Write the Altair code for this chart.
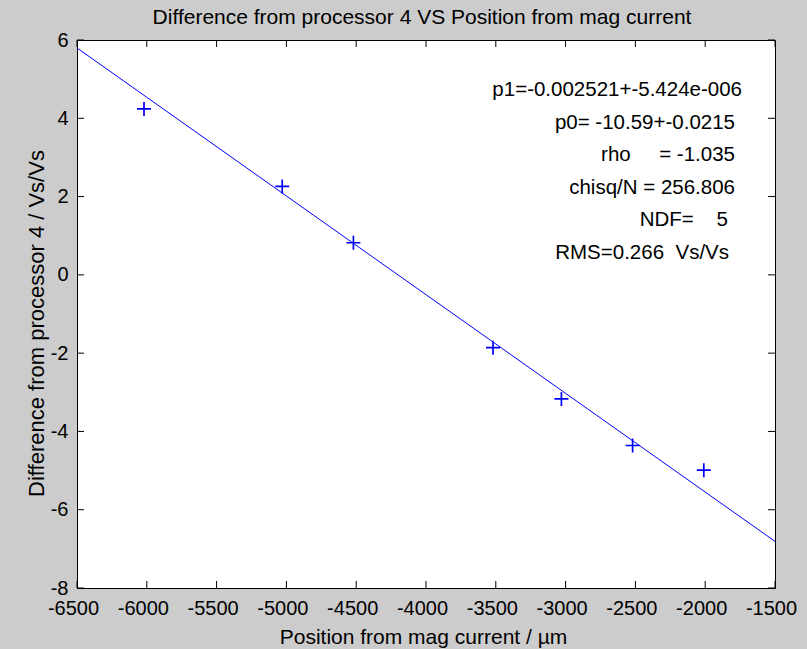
import altair as alt
import pandas as pd

# ---- data ----
X_POS = [-6020, -5030, -4520, -3520, -3030, -2520, -2010]
Y_DIFF = [4.24, 2.26, 0.82, -1.86, -3.17, -4.36, -4.99]
P1 = -0.002521
P0 = -10.59
X_DOMAIN = [-6500, -1500]
Y_DOMAIN = [-8, 6]
X_TICKS = [-6500, -6000, -5500, -5000, -4500, -4000, -3500, -3000, -2500, -2000, -1500]
Y_TICKS = [-8, -6, -4, -2, 0, 2, 4, 6]
TITLE = "Difference from processor 4 VS Position from mag current"
X_TITLE = "Position from mag current / µm"
Y_TITLE = "Difference from processor 4 / Vs/Vs"
NB = "\u00a0"
ANNOT = [
    "p1=-0.002521+-5.424e-006",
    "p0= -10.59+-0.0215",
    "rho" + NB * 5 + "= -1.035",
    "chisq/N = 256.806",
    "NDF=" + NB * 4 + "5",
    "RMS=0.266" + NB * 2 + "Vs/Vs",
]

# ---- layout / style ----
FONT = "Liberation Sans"
FS = 20
BLUE = "#0000ff"
W, H = 698, 548
TICK_LEN = 7
ANNOT_RIGHT = [665, 658, 658, 658, 651, 652]   # right edge of each annotation line (px)
ANNOT_TOP = 56
ANNOT_STEP = 32.6

pts = pd.DataFrame({"x": X_POS, "y": Y_DIFF})
fit = pd.DataFrame({"x": X_DOMAIN, "y": [P1 * v + P0 for v in X_DOMAIN]})
xt = pd.DataFrame({"x": X_TICKS})
yt = pd.DataFrame({"y": Y_TICKS})

xscale = alt.Scale(domain=X_DOMAIN, nice=False, zero=False)
yscale = alt.Scale(domain=Y_DOMAIN, nice=False, zero=False)

x_axis = alt.Axis(values=X_TICKS, title=X_TITLE, labelOffset=-4, labelPadding=10,
                  labelExpr="'' + datum.value", labelOverlap=False, labelFlush=False,
                  titleFontSize=21, titleX=346, titleY=55, titleBaseline="alphabetic")
y_axis = alt.Axis(values=Y_TICKS, title=Y_TITLE, labelPadding=9,
                  labelExpr="'' + datum.value", labelOverlap=False, labelFlush=False,
                  titleFontSize=22, titleX=-34, titleY=283, titleBaseline="alphabetic")

X = alt.X("x:Q", scale=xscale, axis=x_axis)
Y = alt.Y("y:Q", scale=yscale, axis=y_axis)

points = alt.Chart(pts).mark_point(
    shape="M-1,0L1,0M0,-1L0,1", size=196, filled=False, color=BLUE,
    strokeWidth=1.7, opacity=1,
).encode(x=X, y=Y)

line = alt.Chart(fit).mark_line(color=BLUE, strokeWidth=1, clip=True).encode(x=X, y=Y)

tick_style = dict(color="black", strokeWidth=1)
xt_bottom = alt.Chart(xt).mark_rule(**tick_style).encode(
    x=X, y=alt.value(H - TICK_LEN), y2=alt.value(H),
)
xt_top = alt.Chart(xt).mark_rule(**tick_style).encode(
    x=X, y=alt.value(0), y2=alt.value(TICK_LEN),
)
yt_left = alt.Chart(yt).mark_rule(**tick_style).encode(
    y=Y, x=alt.value(0), x2=alt.value(TICK_LEN),
)
yt_right = alt.Chart(yt).mark_rule(**tick_style).encode(
    y=Y, x=alt.value(W - TICK_LEN), x2=alt.value(W),
)

one = pd.DataFrame({"a": [0]})
annot_layers = [
    alt.Chart(one).mark_text(
        text=txt, align="right", baseline="alphabetic",
        font=FONT, fontSize=20.5, color="black",
    ).encode(x=alt.value(ANNOT_RIGHT[i]), y=alt.value(ANNOT_TOP + i * ANNOT_STEP))
    for i, txt in enumerate(ANNOT)
]

title = alt.Chart(one).mark_text(
    text=TITLE, align="center", baseline="alphabetic",
    font=FONT, fontSize=21, color="black",
).encode(x=alt.value(345), y=alt.value(-16))

chart = alt.layer(points, line, xt_bottom, xt_top, yt_left, yt_right, title,
                  *annot_layers).properties(
    width=W, height=H,
    padding={"left": 77, "top": 40, "right": 32, "bottom": 61},
    autosize=alt.AutoSizeParams(type="none"),
).configure(
    background="#cccccc",
).configure_view(
    fill="white", stroke="black", strokeWidth=1,
).configure_axis(
    ticks=False, tickSize=0, grid=False, domain=False,
    labelFont=FONT, labelFontSize=FS, labelColor="black",
    titleFont=FONT, titleFontSize=FS, titleFontWeight="normal", titleColor="black",
)

chart.save("out.html", embed_options={"renderer": "svg", "actions": False})
